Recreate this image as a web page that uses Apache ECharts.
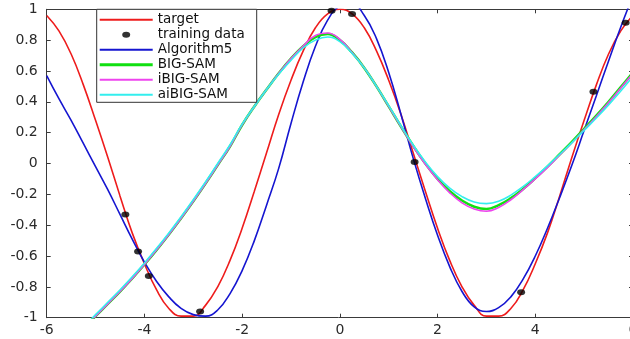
<!DOCTYPE html>
<html>
<head>
<meta charset="utf-8">
<script src="https://cdn.jsdelivr.net/npm/echarts@6/dist/echarts.min.js"></script>
<style>
  html, body { margin: 0; padding: 0; background: #ffffff; overflow: hidden; }
  #chart { width: 630px; height: 339px; }
</style>
</head>
<body>
<div id="chart"></div>
<script>
// ---- data ----
const xs = [-6,-5.75,-5.5,-5.25,-5,-4.75,-4.5,-4.25,-4,-3.75,-3.5,-3.25,-3,-2.75,-2.5,-2.25,-2,-1.75,-1.5,-1.25,-1,-0.75,-0.5,-0.25,0,0.25,0.5,0.75,1,1.25,1.5,1.75,2,2.25,2.5,2.75,3,3.25,3.5,3.75,4,4.25,4.5,4.75,5,5.25,5.5,5.75,6];

const target = [0.96,0.86,0.71,0.51,0.28,0.04,-0.21,-0.45,-0.65,-0.82,-0.94,-0.99,-0.99,-0.92,-0.80,-0.63,-0.42,-0.18,0.07,0.32,0.54,0.73,0.88,0.97,1.00,0.97,0.88,0.73,0.54,0.32,0.07,-0.18,-0.42,-0.63,-0.80,-0.92,-0.99,-0.99,-0.94,-0.82,-0.65,-0.45,-0.21,0.04,0.28,0.51,0.71,0.86,0.96];

const algorithm5 = [0.57,0.42,0.28,0.13,-0.02,-0.17,-0.33,-0.49,-0.64,-0.765,-0.865,-0.94,-0.98,-0.99,-0.95,-0.845,-0.695,-0.50,-0.27,-0.03,0.26,0.53,0.76,0.93,1.02,1.035,0.96,0.81,0.59,0.32,0.035,-0.225,-0.465,-0.67,-0.83,-0.93,-0.96,-0.935,-0.865,-0.75,-0.60,-0.42,-0.22,-0.01,0.215,0.44,0.665,0.885,1.09];

const bigSam = [null,null,null,-1.07,-0.99,-0.91,-0.83,-0.745,-0.655,-0.56,-0.46,-0.355,-0.245,-0.13,-0.01,0.11,0.25,0.37,0.48,0.585,0.68,0.76,0.82,0.84,0.80,0.72,0.62,0.50,0.37,0.24,0.115,0.0,-0.10,-0.18,-0.24,-0.28,-0.295,-0.27,-0.225,-0.165,-0.095,-0.02,0.06,0.14,0.225,0.31,0.40,0.495,0.59];

const iBigSam = [null,null,null,-1.07,-0.99,-0.91,-0.83,-0.745,-0.655,-0.56,-0.46,-0.355,-0.245,-0.13,-0.01,0.11,0.25,0.37,0.48,0.585,0.68,0.762,0.83,0.846,0.805,0.72,0.62,0.50,0.37,0.24,0.11,-0.005,-0.105,-0.19,-0.255,-0.295,-0.31,-0.285,-0.235,-0.17,-0.10,-0.025,0.055,0.135,0.22,0.305,0.395,0.49,0.585];

const aiBigSam = [null,null,null,-1.06,-0.98,-0.90,-0.82,-0.735,-0.645,-0.55,-0.45,-0.345,-0.235,-0.12,0.0,0.12,0.255,0.37,0.48,0.58,0.67,0.75,0.80,0.82,0.79,0.715,0.62,0.50,0.375,0.245,0.12,0.01,-0.085,-0.16,-0.215,-0.25,-0.26,-0.245,-0.205,-0.15,-0.085,-0.015,0.06,0.135,0.215,0.295,0.38,0.47,0.565];

const trainX = [-4.39,-4.13,-3.91,-2.86,-0.17,0.25,1.53,3.71,5.19,5.85];
const trainY = [-0.33,-0.57,-0.73,-0.96,0.99,0.97,0.01,-0.835,0.466,0.913];

const xTicks = [-6,-4,-2,0,2,4,6];
const yTicks = [-1,-0.8,-0.6,-0.4,-0.2,0,0.2,0.4,0.6,0.8,1];

const seriesNames = ['target','training data','Algorithm5','BIG-SAM','iBIG-SAM','aiBIG-SAM'];
const seriesColors = ['#ee1c1c','#000000','#1515d0','#11e011','#ee44ee','#33eeee'];

// ---- build ----
function pairs(x, y) {
  const out = [];
  for (let i = 0; i < x.length; i++) if (y[i] !== null) out.push([x[i], y[i]]);
  return out;
}
const FONT = 'DejaVu Sans';
const AX = '#3a3a3a';

const chart = echarts.init(document.getElementById('chart'), null, {renderer: 'canvas'});

function fmtX(v) { const t = xTicks.find(a => Math.abs(a - v) < 1e-6); return t === undefined ? '' : String(t); }
function fmtY(v) { const t = yTicks.find(a => Math.abs(a - v) < 1e-6); return t === undefined ? '' : String(t); }

const lineBase = { type: 'line', showSymbol: false, symbol: 'none', smooth: 0.45, clip: true, animation: false };
const ICON_THIN = 'path://M0,0H53V2H0Z';
const ICON_THICK = 'path://M0,0H53V3H0Z';
const ICON_DOT = 'path://M0,3a4,3 0 1,0 8,0a4,3 0 1,0 -8,0';

chart.setOption({
  animation: false,
  backgroundColor: '#ffffff',
  grid: { left: 46.7, top: 9.3, width: 586.3, height: 308.4, containLabel: false, outerBoundsMode: 'none' },
  xAxis: [
    { type: 'value', min: -6, max: 6, interval: 2, position: 'bottom',
      axisLine: { show: true, onZero: false, lineStyle: { color: AX, width: 1 } },
      axisTick: { show: true, inside: true, length: 4, lineStyle: { color: AX } },
      axisLabel: { show: true, margin: 6, color: '#2a2a2a', fontFamily: FONT, fontSize: 14, formatter: fmtX, showMinLabel: true, showMaxLabel: true, hideOverlap: false },
      splitLine: { show: false } },
    { type: 'value', min: -6, max: 6, interval: 2, position: 'top',
      axisLine: { show: true, onZero: false, lineStyle: { color: AX, width: 1 } },
      axisTick: { show: true, inside: true, length: 4, lineStyle: { color: AX } },
      axisLabel: { show: false }, splitLine: { show: false } }
  ],
  yAxis: [
    { type: 'value', min: -1, max: 1, interval: 0.2, position: 'left',
      axisLine: { show: true, onZero: false, lineStyle: { color: AX, width: 1 } },
      axisTick: { show: true, inside: true, length: 4, lineStyle: { color: AX } },
      axisLabel: { show: true, margin: 9, color: '#2a2a2a', fontFamily: FONT, fontSize: 14, formatter: fmtY },
      splitLine: { show: false } },
    { type: 'value', min: -1, max: 1, interval: 0.2, position: 'right',
      axisLine: { show: true, onZero: false, lineStyle: { color: AX, width: 1 } },
      axisTick: { show: true, inside: true, length: 4, lineStyle: { color: AX } },
      axisLabel: { show: false }, splitLine: { show: false } }
  ],
  legend: {
    orient: 'vertical', left: 96.7, top: 9.3,
    padding: [3, 12, 0, 3],
    itemWidth: 53, itemHeight: 6, itemGap: 0,
    backgroundColor: '#ffffff', borderColor: '#333333', borderWidth: 1,
    textStyle: { fontFamily: FONT, fontSize: 13.5, color: '#111111', lineHeight: 15 },
    selectedMode: false,
    data: [
      { name: seriesNames[0], icon: ICON_THIN },
      { name: seriesNames[1], icon: ICON_DOT },
      { name: seriesNames[2], icon: ICON_THIN },
      { name: seriesNames[3], icon: ICON_THICK },
      { name: seriesNames[4], icon: ICON_THIN },
      { name: seriesNames[5], icon: ICON_THIN }
    ]
  },
  series: [
    Object.assign({}, lineBase, { name: seriesNames[0], data: pairs(xs, target), lineStyle: { color: seriesColors[0], width: 1.6 }, itemStyle: { color: seriesColors[0] } }),
    { type: 'scatter', name: seriesNames[1], data: pairs(trainX, trainY), symbol: 'circle', symbolSize: [8, 6], itemStyle: { color: seriesColors[1] }, z: 10, animation: false },
    Object.assign({}, lineBase, { name: seriesNames[2], data: pairs(xs, algorithm5), lineStyle: { color: seriesColors[2], width: 1.6 }, itemStyle: { color: seriesColors[2] } }),
    Object.assign({}, lineBase, { name: seriesNames[3], data: pairs(xs, bigSam), lineStyle: { color: seriesColors[3], width: 2.6 }, itemStyle: { color: seriesColors[3] } }),
    Object.assign({}, lineBase, { name: seriesNames[4], data: pairs(xs, iBigSam), lineStyle: { color: seriesColors[4], width: 1.6 }, itemStyle: { color: seriesColors[4] } }),
    Object.assign({}, lineBase, { name: seriesNames[5], data: pairs(xs, aiBigSam), lineStyle: { color: seriesColors[5], width: 1.6 }, itemStyle: { color: seriesColors[5] } })
  ]
});
</script>
</body>
</html>
